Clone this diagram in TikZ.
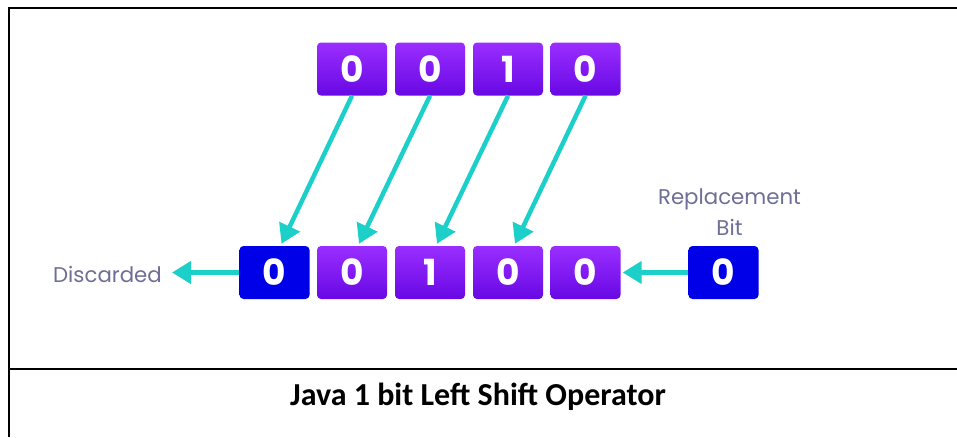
\documentclass[tikz,border=0pt]{standalone}
\usepackage{fontspec}
\setmainfont{Poppins}
\newfontfamily\titlefont{Carlito}
\usetikzlibrary{arrows.meta}
\definecolor{bittop}{HTML}{9A2EFF}
\definecolor{bitbot}{HTML}{6808E4}
\definecolor{bitblue}{HTML}{0000E8}
\definecolor{teal}{HTML}{1CCFC9}
\definecolor{labelgray}{HTML}{6E6E96}
\begin{document}
\begin{tikzpicture}[x=1pt,y=-1pt,
  bitbox/.style={rounded corners=4pt, minimum width=70pt, minimum height=53pt, inner sep=0pt,
    top color=bittop, bottom color=bitbot, draw=none, text=white,
    font=\fontsize{36}{36}\selectfont\bfseries},
  bluebox/.style={bitbox, top color=bitblue, bottom color=bitblue},
  lbl/.style={text=labelgray, font=\fontsize{21.3}{31}\selectfont, align=center, inner sep=0pt},
  arr/.style={draw=teal, line width=4.5pt, -{Triangle[length=19pt,width=22pt]}},
  frame/.style={line width=2pt, black}
]
\useasboundingbox (0,0) rectangle (957,437);
% frame
\draw[frame] (8.5,437) -- (8.5,7.5) -- (957,7.5);
\draw[frame] (8.5,369) -- (957,369);
% top row
\node[bitbox] (t1) at (352,69) {0};
\node[bitbox] (t2) at (430,69) {0};
\node[bitbox] (t3) at (508,69) {1};
\node[bitbox] (t4) at (585.5,69) {0};
% bottom row
\node[bluebox] (b0) at (274.5,272.5) {0};
\node[bitbox] (b1) at (352,272.5) {0};
\node[bitbox] (b2) at (430,272.5) {1};
\node[bitbox] (b3) at (508,272.5) {0};
\node[bitbox] (b4) at (585.5,272.5) {0};
\node[bluebox] (r) at (723.5,272.5) {0};
% labels
\node[lbl] (disc) at (107.5,274) {Discarded};
\node[lbl] (rep) at (729.5,212) {Replacement\\Bit};
\coordinate (dtip) at (172,272.5);
% arrows
\draw[arr] (t1.south) -- ([xshift=7pt,yshift=2pt]b0.north);
\draw[arr] (t2.south) -- ([xshift=7pt,yshift=2pt]b1.north);
\draw[arr] (t3.south) -- ([xshift=7pt,yshift=2pt]b2.north);
\draw[arr] (t4.south) -- ([xshift=7pt,yshift=2pt]b3.north);
\draw[arr] (b0.west) -- (dtip);
\draw[arr] (r.west) -- ([xshift=2pt]b4.east);
% title
\node[font=\titlefont\bfseries\fontsize{32}{36}\selectfont] (title) at (478,397) {Java 1 bit Left Shift Operator};
\end{tikzpicture}
\end{document}
